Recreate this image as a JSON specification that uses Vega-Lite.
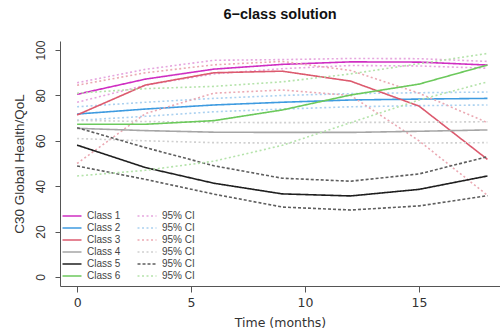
{
  "$schema": "https://vega.github.io/schema/vega-lite/v6.json",
  "autosize": {"type": "none"},
  "width": 440,
  "height": 245,
  "padding": {"left": 60, "top": 41, "right": 0, "bottom": 47},
  "background": "white",
  "title": {"text": "6−class solution", "font": "Liberation Sans", "fontSize": 14.5, "fontWeight": "bold", "color": "#111", "anchor": "middle", "offset": 18},
  "config": {
    "view": {"stroke": null},
    "axis": {"grid": false, "domainColor": "#555", "tickColor": "#555", "labelColor": "#333", "titleColor": "#333", "titleFontWeight": "normal"}
  },
  "data": {"values": [
    {"series":"Class 1","bound":"m","t":0,"v":80.5},{"series":"Class 1","bound":"m","t":3,"v":87.2},{"series":"Class 1","bound":"m","t":6,"v":91.6},{"series":"Class 1","bound":"m","t":9,"v":93.7},{"series":"Class 1","bound":"m","t":12,"v":94.8},{"series":"Class 1","bound":"m","t":15,"v":94.7},{"series":"Class 1","bound":"m","t":18,"v":93.4},
    {"series":"CI 1","bound":"hi","t":0,"v":85.6},{"series":"CI 1","bound":"hi","t":3,"v":91.5},{"series":"CI 1","bound":"hi","t":6,"v":95.5},{"series":"CI 1","bound":"hi","t":9,"v":95.8},{"series":"CI 1","bound":"hi","t":12,"v":96.3},{"series":"CI 1","bound":"hi","t":15,"v":96.2},{"series":"CI 1","bound":"hi","t":18,"v":95.0},
    {"series":"CI 1","bound":"lo","t":0,"v":77.0},{"series":"CI 1","bound":"lo","t":3,"v":84.5},{"series":"CI 1","bound":"lo","t":6,"v":89.5},{"series":"CI 1","bound":"lo","t":9,"v":91.8},{"series":"CI 1","bound":"lo","t":12,"v":93.2},{"series":"CI 1","bound":"lo","t":15,"v":93.0},{"series":"CI 1","bound":"lo","t":18,"v":92.0},
    {"series":"Class 2","bound":"m","t":0,"v":71.8},{"series":"Class 2","bound":"m","t":3,"v":74.0},{"series":"Class 2","bound":"m","t":6,"v":75.8},{"series":"Class 2","bound":"m","t":9,"v":77.0},{"series":"Class 2","bound":"m","t":12,"v":78.0},{"series":"Class 2","bound":"m","t":15,"v":78.4},{"series":"Class 2","bound":"m","t":18,"v":78.7},
    {"series":"CI 2","bound":"hi","t":0,"v":75.0},{"series":"CI 2","bound":"hi","t":3,"v":77.0},{"series":"CI 2","bound":"hi","t":6,"v":78.7},{"series":"CI 2","bound":"hi","t":9,"v":80.0},{"series":"CI 2","bound":"hi","t":12,"v":80.8},{"series":"CI 2","bound":"hi","t":15,"v":81.2},{"series":"CI 2","bound":"hi","t":18,"v":81.5},
    {"series":"CI 2","bound":"lo","t":0,"v":69.0},{"series":"CI 2","bound":"lo","t":3,"v":70.8},{"series":"CI 2","bound":"lo","t":6,"v":72.8},{"series":"CI 2","bound":"lo","t":9,"v":74.0},{"series":"CI 2","bound":"lo","t":12,"v":75.0},{"series":"CI 2","bound":"lo","t":15,"v":75.5},{"series":"CI 2","bound":"lo","t":18,"v":75.8},
    {"series":"Class 3","bound":"m","t":0,"v":71.4},{"series":"Class 3","bound":"m","t":3,"v":84.6},{"series":"Class 3","bound":"m","t":6,"v":90.0},{"series":"Class 3","bound":"m","t":9,"v":90.7},{"series":"Class 3","bound":"m","t":12,"v":86.3},{"series":"Class 3","bound":"m","t":15,"v":75.3},{"series":"Class 3","bound":"m","t":18,"v":51.8},
    {"series":"CI 3","bound":"hi","t":0,"v":84.5},{"series":"CI 3","bound":"hi","t":3,"v":90.0},{"series":"CI 3","bound":"hi","t":6,"v":93.5},{"series":"CI 3","bound":"hi","t":9,"v":95.0},{"series":"CI 3","bound":"hi","t":12,"v":91.0},{"series":"CI 3","bound":"hi","t":15,"v":81.0},{"series":"CI 3","bound":"hi","t":18,"v":68.0},
    {"series":"CI 3","bound":"lo","t":0,"v":50.0},{"series":"CI 3","bound":"lo","t":3,"v":72.0},{"series":"CI 3","bound":"lo","t":6,"v":81.0},{"series":"CI 3","bound":"lo","t":9,"v":82.4},{"series":"CI 3","bound":"lo","t":12,"v":80.0},{"series":"CI 3","bound":"lo","t":15,"v":60.0},{"series":"CI 3","bound":"lo","t":18,"v":36.0},
    {"series":"Class 4","bound":"m","t":0,"v":65.5},{"series":"Class 4","bound":"m","t":3,"v":64.5},{"series":"Class 4","bound":"m","t":6,"v":63.8},{"series":"Class 4","bound":"m","t":9,"v":63.7},{"series":"Class 4","bound":"m","t":12,"v":63.7},{"series":"Class 4","bound":"m","t":15,"v":64.2},{"series":"Class 4","bound":"m","t":18,"v":64.8},
    {"series":"CI 4","bound":"hi","t":0,"v":69.0},{"series":"CI 4","bound":"hi","t":3,"v":68.5},{"series":"CI 4","bound":"hi","t":6,"v":68.1},{"series":"CI 4","bound":"hi","t":9,"v":68.0},{"series":"CI 4","bound":"hi","t":12,"v":68.1},{"series":"CI 4","bound":"hi","t":15,"v":68.2},{"series":"CI 4","bound":"hi","t":18,"v":68.4},
    {"series":"CI 4","bound":"lo","t":0,"v":61.0},{"series":"CI 4","bound":"lo","t":3,"v":60.0},{"series":"CI 4","bound":"lo","t":6,"v":59.2},{"series":"CI 4","bound":"lo","t":9,"v":59.0},{"series":"CI 4","bound":"lo","t":12,"v":59.0},{"series":"CI 4","bound":"lo","t":15,"v":59.0},{"series":"CI 4","bound":"lo","t":18,"v":59.2},
    {"series":"Class 5","bound":"m","t":0,"v":58.1},{"series":"Class 5","bound":"m","t":3,"v":48.2},{"series":"Class 5","bound":"m","t":6,"v":41.3},{"series":"Class 5","bound":"m","t":9,"v":36.6},{"series":"Class 5","bound":"m","t":12,"v":35.7},{"series":"Class 5","bound":"m","t":15,"v":38.6},{"series":"Class 5","bound":"m","t":18,"v":44.5},
    {"series":"CI 5","bound":"hi","t":0,"v":65.8},{"series":"CI 5","bound":"hi","t":3,"v":57.0},{"series":"CI 5","bound":"hi","t":6,"v":49.0},{"series":"CI 5","bound":"hi","t":9,"v":43.5},{"series":"CI 5","bound":"hi","t":12,"v":42.2},{"series":"CI 5","bound":"hi","t":15,"v":45.4},{"series":"CI 5","bound":"hi","t":18,"v":53.0},
    {"series":"CI 5","bound":"lo","t":0,"v":48.9},{"series":"CI 5","bound":"lo","t":3,"v":43.0},{"series":"CI 5","bound":"lo","t":6,"v":36.5},{"series":"CI 5","bound":"lo","t":9,"v":30.8},{"series":"CI 5","bound":"lo","t":12,"v":29.5},{"series":"CI 5","bound":"lo","t":15,"v":31.3},{"series":"CI 5","bound":"lo","t":18,"v":35.8},
    {"series":"Class 6","bound":"m","t":0,"v":67.3},{"series":"Class 6","bound":"m","t":3,"v":67.3},{"series":"Class 6","bound":"m","t":6,"v":68.9},{"series":"Class 6","bound":"m","t":9,"v":73.6},{"series":"Class 6","bound":"m","t":12,"v":80.2},{"series":"Class 6","bound":"m","t":15,"v":85.0},{"series":"Class 6","bound":"m","t":18,"v":93.4},
    {"series":"CI 6","bound":"hi","t":0,"v":81.0},{"series":"CI 6","bound":"hi","t":3,"v":83.0},{"series":"CI 6","bound":"hi","t":6,"v":84.0},{"series":"CI 6","bound":"hi","t":9,"v":86.0},{"series":"CI 6","bound":"hi","t":12,"v":89.5},{"series":"CI 6","bound":"hi","t":15,"v":94.0},{"series":"CI 6","bound":"hi","t":18,"v":98.5},
    {"series":"CI 6","bound":"lo","t":0,"v":44.5},{"series":"CI 6","bound":"lo","t":3,"v":47.0},{"series":"CI 6","bound":"lo","t":6,"v":51.0},{"series":"CI 6","bound":"lo","t":9,"v":58.0},{"series":"CI 6","bound":"lo","t":12,"v":68.0},{"series":"CI 6","bound":"lo","t":15,"v":78.0},{"series":"CI 6","bound":"lo","t":18,"v":86.0}
  ]},
  "mark": {"type": "line", "clip": true},
  "encoding": {
    "x": {"field": "t", "type": "quantitative", "scale": {"domain": [-0.75, 18.55], "nice": false, "zero": false},
      "axis": {"values": [0, 5, 10, 15], "title": "Time (months)", "labelFont": "DejaVu Sans", "labelFontSize": 12.5, "titleFont": "DejaVu Sans", "titleFontSize": 12.5, "tickSize": 6, "labelPadding": 4, "titlePadding": 8}},
    "y": {"field": "v", "type": "quantitative", "scale": {"domain": [-4, 104], "nice": false, "zero": false},
      "axis": {"values": [0, 20, 40, 60, 80, 100], "title": "C30 Global Health/QoL", "labelAngle": -90, "labelAlign": "center", "labelBaseline": "bottom", "labelFont": "Liberation Sans", "labelFontSize": 12, "titleFont": "Liberation Sans", "titleFontSize": 13.5, "tickSize": 5, "labelPadding": 8, "titlePadding": 8}},
    "detail": {"field": "bound"},
    "color": {"field": "series", "type": "nominal",
      "scale": {"domain": ["Class 1","Class 2","Class 3","Class 4","Class 5","Class 6","CI 1","CI 2","CI 3","CI 4","CI 5","CI 6"],
        "range": ["#CF2EC2","#3E9BE0","#DC5A6E","#A6A6A6","#1E1E1E","#6CC95C","#E6A6DE","#ABD1F0","#EBA9B3","#D0D0D0","#5E5E5E","#B5E3AB"]},
      "legend": {"orient": "none", "legendX": 6, "legendY": 169, "columns": 2, "title": null, "labelFont": "Liberation Sans", "labelFontSize": 10, "labelColor": "#444", "labelExpr": "indexof(datum.label, 'CI') === 0 ? '95% CI' : datum.label", "symbolType": "M-2,0H2", "symbolSize": 90, "symbolStrokeWidth": 1.5, "rowPadding": 1, "columnPadding": 13, "labelOffset": 9}},
    "strokeDash": {"field": "series", "type": "nominal",
      "scale": {"domain": ["Class 1","Class 2","Class 3","Class 4","Class 5","Class 6","CI 1","CI 2","CI 3","CI 4","CI 5","CI 6"],
        "range": [[1,0],[1,0],[1,0],[1,0],[1,0],[1,0],[2,2.5],[2,2.5],[2,2.5],[2,2.5],[3,2],[2,2.5]]}},
    "strokeWidth": {"field": "series", "type": "nominal", "legend": null,
      "scale": {"domain": ["Class 1","Class 2","Class 3","Class 4","Class 5","Class 6","CI 1","CI 2","CI 3","CI 4","CI 5","CI 6"],
        "range": [1.6,1.6,1.6,1.6,1.6,1.6,1,1,1,1,1,1]}}
  }
}
